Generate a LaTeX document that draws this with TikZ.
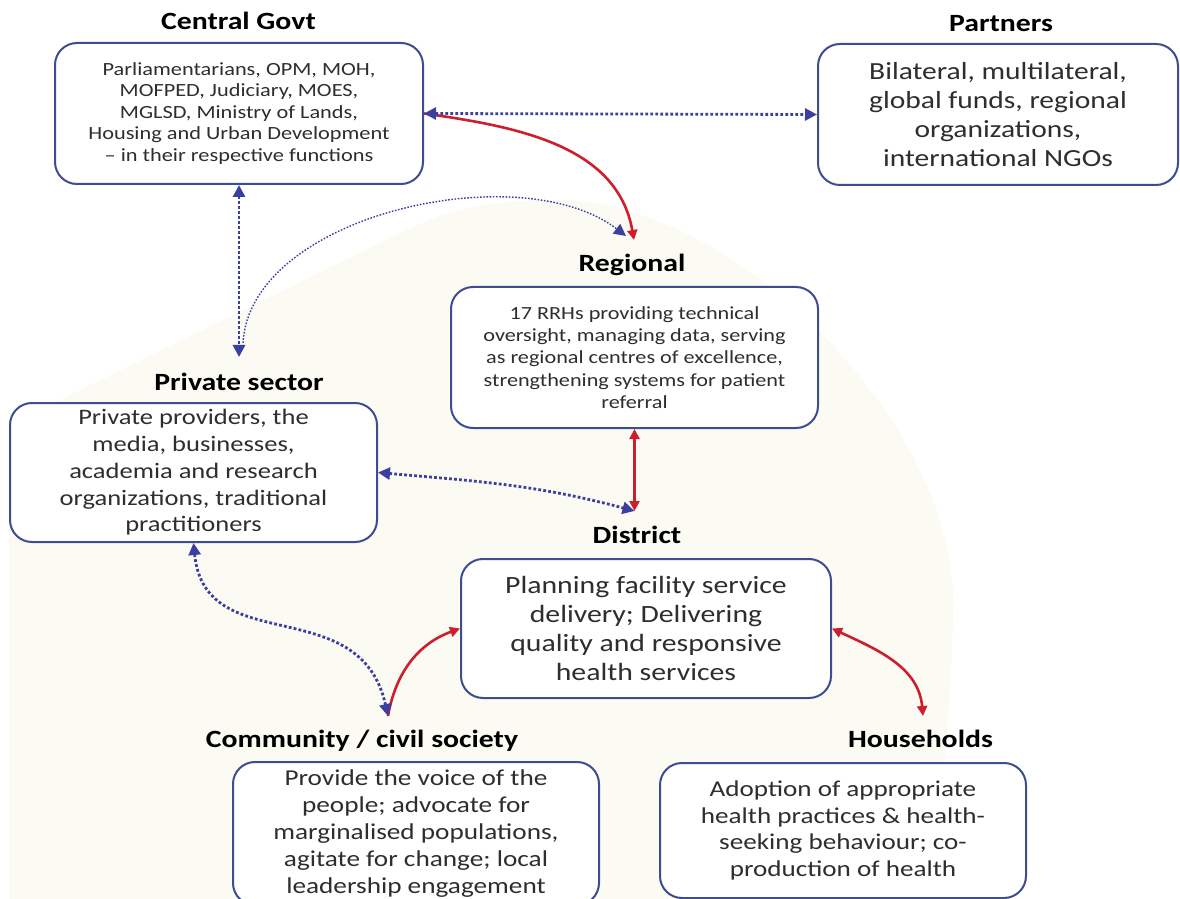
\documentclass[tikz,border=0pt]{standalone}
\usepackage{fontspec}
\setmainfont{Carlito}[FakeStretch=1.2]
\usetikzlibrary{arrows.meta}
\definecolor{boxblue}{HTML}{3E4C90}
\definecolor{dotblue}{HTML}{3B3F9F}
\definecolor{arrred}{HTML}{CC1E2C}
\definecolor{cream}{HTML}{FBFBF4}
\definecolor{txtgray}{HTML}{2E2E2E}
\newcommand{\fsz}[2]{\fontsize{#1}{#2}\selectfont}
\begin{document}
\begin{tikzpicture}[x=0.5pt,y=-0.5pt,
  rbox/.style={draw=boxblue, line width=1pt, rounded corners=11pt, fill=white,
    align=center, text=txtgray, inner sep=0pt},
  hd/.style={font=\bfseries\fsz{12.4}{14}, text=black, inner sep=0pt, anchor=base},
  bdot/.style={draw=dotblue, line width=1.4pt, dash pattern=on 1.4pt off 1.1pt,
    arrows={Triangle[length=6pt,width=6pt]-Triangle[length=6pt,width=6pt]}},
  tdot/.style={draw=dotblue, line width=0.7pt, dash pattern=on 0.8pt off 0.8pt,
    arrows={-Triangle[length=6pt,width=6pt]}},
  rtwo/.style={draw=arrred, line width=1.3pt,
    arrows={Triangle[length=5pt,width=5pt]-Triangle[length=5pt,width=5pt]}},
  rone/.style={draw=arrred, line width=1.3pt,
    arrows={-Triangle[length=5pt,width=5pt]}}
]
\useasboundingbox (0,0) rectangle (1180,899);
% background
\fill[cream] (9,899) -- (9,425) -- (400,233)
  .. controls (455,206) and (500,200) .. (560,200)
  .. controls (730,200) and (953,420) .. (953,600)
  .. controls (953,700) and (940,800) .. (930,899) -- cycle;

% headings
\node[hd] (cgh) at (238.5,30) {Central Govt};
\node[hd] (pth) at (1001,31.5) {Partners};
\node[hd] (rgh) at (632,271.5) {Regional};
\node[hd] (psh) at (239,391) {Private sector};
\node[hd] (dsh) at (637,543) {District};
\node[hd] (cmh) at (362,747) {Community / civil society};
\node[hd] (hhh) at (920.5,747) {Households};

% boxes
\node[rbox, minimum width=184pt, minimum height=70.5pt, font=\fsz{9.3}{10.75}] (cg) at (239,113.5)
 {Parliamentarians, OPM, MOH,\\ MOFPED, Judiciary, MOES,\\ MGLSD, Ministry of Lands,\\ Housing and Urban Development\\ -- in their respective functions};
\node[rbox, minimum width=180pt, minimum height=70.5pt, font=\fsz{12.3}{14.5}] (pt) at (998,114.5)
 {Bilateral, multilateral,\\ global funds, regional\\ organizations,\\ international NGOs};
\node[rbox, minimum width=183.5pt, minimum height=70.5pt, font=\fsz{9.25}{11.15}] (rg) at (634.5,357.5)
 {17 RRHs providing technical\\ oversight, managing data, serving\\ as regional centres of excellence,\\ strengthening systems for patient\\ referral};
\node[rbox, minimum width=183.5pt, minimum height=69.5pt, font=\fsz{11.05}{13.35}] (ps) at (193.5,472.5)
 {Private providers, the\\ media, businesses,\\ academia and research\\ organizations, traditional\\ practitioners};
\node[rbox, minimum width=185pt, minimum height=69.5pt, font=\fsz{12.4}{14.5}] (ds) at (646,628.5)
 {Planning facility service\\ delivery; Delivering\\ quality and responsive\\ health services};
\node[rbox, minimum width=183pt, minimum height=71.5pt, font=\fsz{11.35}{13.5}] (cm) at (416,833.5)
 {Provide the voice of the\\ people; advocate for\\ marginalised populations,\\ agitate for change; local\\ leadership engagement};
\node[rbox, minimum width=183pt, minimum height=67.5pt, font=\fsz{11.3}{13.35}] (hh) at (843,830.5)
 {Adoption of appropriate\\ health practices \& health-\\ seeking behaviour; co-\\ production of health};

% arrow end points
\coordinate (rgTop) at (634,240);
\coordinate (rgTopB) at (626,236);
\coordinate (psTop) at (239,357);
\coordinate (psThin) at (243,343);
\coordinate (dsTop) at (634.5,511);
\coordinate (cmTop) at (388,716);
\coordinate (hhTop) at (923,716);

% red connectors
\draw[rone] (cg.east) to[out=-8,in=100] (rgTop);
\draw[rtwo] (rg.south) -- (dsTop);
\draw[rone] (cmTop) to[out=80,in=200] (ds.west);
\draw[rtwo] (ds.east) to[out=-25,in=95] (hhTop);

% blue connectors
\draw[bdot] (cg.east) -- (pt.west);
\draw[bdot] (cg.south) -- (psTop);
\draw[tdot] (psThin) .. controls (250,215) and (520,155) .. (rgTopB);
\draw[bdot] (ps.east) to[out=-5,in=165] (dsTop);
\draw[bdot] (ps.south) .. controls (205,660) and (360,590) .. (cmTop);
\end{tikzpicture}
\end{document}
